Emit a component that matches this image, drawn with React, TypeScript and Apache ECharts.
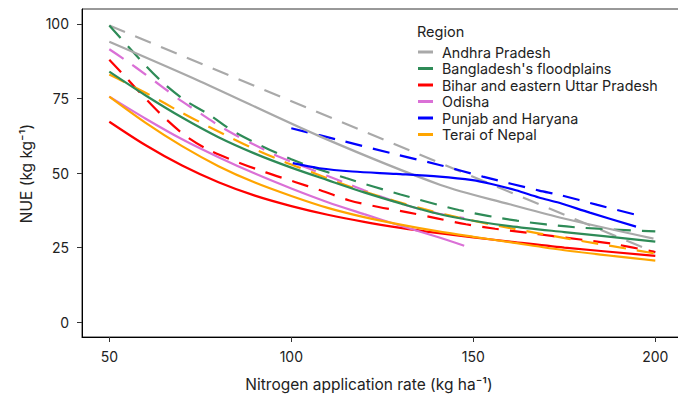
import React, { useEffect, useRef } from "react";
import * as echarts from "echarts";

const regions = [
  "Andhra Pradesh",
  "Bangladesh's floodplains",
  "Bihar and eastern Uttar Pradesh",
  "Odisha",
  "Punjab and Haryana",
  "Terai of Nepal",
];
const colors = ["#A9A9A9", "#2E8B57", "#FF0000", "#DA70D6", "#0000FF", "#FFA500"];
const xTicks = [50, 100, 150, 200];
const yTicks = [0, 25, 50, 75, 100];

// [N rate, NUE] solid curves
const andhraSolid = [[50, 94], [75, 80.7], [108, 62.2], [141, 46], [160, 39.5], [174, 35], [199.5, 28]];
const bangladeshSolid = [[50, 84], [60, 76], [70, 68.6], [80, 62], [90, 56.5], [100, 51.8], [110, 47.6], [120, 43.5], [130, 39.8], [140, 36.4], [150, 34], [160, 32.2], [175, 30.2], [200, 27]];
const biharSolid = [[50, 67.2], [60, 59.3], [70, 52.5], [80, 46.9], [90, 42.4], [100, 38.9], [110, 36], [120, 33.6], [130, 31.6], [140, 29.9], [150, 28.4], [160, 27], [175, 25], [200, 22.2]];
const odishaSolid = [[50, 75.6], [60, 68.2], [70, 61.3], [80, 55.3], [90, 49.8], [100, 44.8], [110, 40.2], [120, 36.2], [130, 32.3], [140, 28.6], [147.5, 25.6]];
const punjabSolid = [[100.4, 53.3], [107.7, 51.6], [116.8, 50.5], [128.8, 49.7], [140.7, 48.8], [149.8, 47.6], [155, 46.3], [161.7, 44.2], [168, 41.8], [173.6, 40], [182, 36.7], [194.7, 32]];
const teraiSolid = [[50, 75.6], [60, 66.8], [70, 59], [80, 52.3], [90, 46.8], [100, 42.3], [110, 38.3], [120, 35.2], [130, 32.7], [140, 30.5], [150, 28.6], [160, 26.8], [175, 24.1], [200, 20.6]];

// dashed curves
const andhraDashed = [[50, 99.5], [125, 61.4], [200, 23.3]];
const bangladeshDashed = [[50, 99.5], [59, 87.3], [65, 80], [71, 74.2], [77.5, 69.5], [85, 63.3], [100, 54.6], [115, 48.3], [130, 42.8], [146, 37.6], [162, 34], [178, 31.8], [200, 30.4]];
const biharDashed = [[50, 88], [54, 82.8], [58, 77.5], [64.6, 69.2], [71, 62.4], [77.5, 57.6], [86, 53.3], [93, 50.2], [101, 47], [108, 44.2], [116, 40.8], [124, 38.6], [132, 36.8], [140, 34.8], [148, 32.8], [156, 31.3], [164, 30.1], [172, 28.8], [188, 26.3], [200, 23.5]];
const odishaDashed = [[50, 91.5], [55, 87.4], [60, 83], [65, 78.5], [70, 74], [75, 70], [80, 66], [85, 62.5], [90, 59.4], [95, 56.4], [100, 53.8], [105, 51.4], [110, 49], [115, 46.6], [120, 44.2], [125, 41.9], [130, 39.8], [135, 38], [140, 36.5], [147.5, 34.9]];
const punjabDashed = [[100, 65], [113.6, 60.9], [129.2, 56.1], [140.7, 52.7], [152.6, 48.8], [168.1, 44.1], [173.6, 42.7], [184.1, 39.3], [194.7, 36]];
const teraiDashed = [[50, 83], [54, 80.6], [62, 75.6], [69, 70.8], [76.6, 66], [83.4, 61.8], [90.7, 57.6], [98, 53.8], [106, 50.1], [113, 46.8], [120.5, 43.6], [128.3, 40.7], [136.5, 37.9], [144, 35.6], [152.6, 33.3], [161, 31.3], [175.5, 28.1], [184, 26.3], [192.4, 24.6], [200, 23]];

const FONT = "Inter";

export default function App() {
  const ref = useRef<HTMLDivElement>(null);
  useEffect(() => {
    const chart = echarts.init(ref.current!, null, { renderer: "svg" });
    const solid = [andhraSolid, bangladeshSolid, biharSolid, odishaSolid, punjabSolid, teraiSolid];
    const dashed = [andhraDashed, bangladeshDashed, biharDashed, odishaDashed, punjabDashed, teraiDashed];
    const series: any[] = [];
    regions.forEach((r, i) => {
      series.push({
        type: "line",
        name: r + " (alt)",
        data: dashed[i],
        smooth: i === 0 ? false : 0.3,
        showSymbol: false,
        lineStyle: { color: colors[i], width: 2.2, type: [17, 11], cap: "butt" },
        itemStyle: { color: colors[i] },
        z: 2,
      });
    });
    regions.forEach((r, i) => {
      series.push({
        type: "line",
        name: r,
        data: solid[i],
        smooth: 0.3,
        showSymbol: false,
        lineStyle: { color: colors[i], width: 2.2 },
        itemStyle: { color: colors[i] },
        z: 3,
      });
    });
    chart.setOption({
      animation: false,
      grid: {
        left: 82,
        top: 9,
        right: -4.6,
        bottom: 61,
        show: true,
        borderColor: "#333",
        borderWidth: 1,
        backgroundColor: "transparent",
        outerBoundsMode: "none",
      },
      xAxis: {
        type: "value",
        min: 42.5,
        max: 207.5,
        axisLine: { show: true, onZero: false, lineStyle: { color: "#000", width: 1 } },
        axisTick: { show: true, length: 5, lineStyle: { color: "#333" }, customValues: xTicks },
        axisLabel: { customValues: xTicks, margin: 12, fontSize: 14, color: "#222", fontFamily: FONT },
        splitLine: { show: false },
      },
      yAxis: {
        type: "value",
        min: -5,
        max: 105,
        axisLine: { show: true, onZero: false, lineStyle: { color: "#000", width: 1 } },
        axisTick: { show: true, length: 5, lineStyle: { color: "#333" }, customValues: yTicks },
        axisLabel: { customValues: yTicks, margin: 13, fontSize: 14, color: "#222", fontFamily: FONT },
        splitLine: { show: false },
      },
      legend: {
        data: regions,
        orient: "vertical",
        left: 418,
        top: 44,
        itemWidth: 15,
        itemHeight: 3,
        itemGap: 0.5,
        icon: "rect",
        padding: 0,
        textStyle: { fontSize: 14.3, color: "#222", fontFamily: FONT, lineHeight: 16, padding: [0, 0, 0, 4] },
      },
      graphic: [
        {
          type: "text",
          left: 417,
          top: 24,
          style: { text: "Region", fontSize: 14.5, fontFamily: FONT, fill: "#222" },
        },
        {
          type: "text",
          x: 369,
          y: 384,
          style: {
            text: "Nitrogen application rate (kg ha\u207B\u00B9)",
            fontSize: 15.5,
            fontFamily: FONT,
            fill: "#222",
            textAlign: "center",
            textVerticalAlign: "middle",
          },
        },
        {
          type: "text",
          x: 26,
          y: 173.5,
          rotation: Math.PI / 2,
          style: {
            text: "NUE (kg kg\u207B\u00B9)",
            fontSize: 15.5,
            fontFamily: FONT,
            fill: "#222",
            textAlign: "center",
            textVerticalAlign: "middle",
          },
        },
      ],
      series,
    });
    return () => chart.dispose();
  }, []);
  return <div ref={ref} style={{ position: "absolute", left: 0, top: 0, width: 678, height: 398 }} />;
}
